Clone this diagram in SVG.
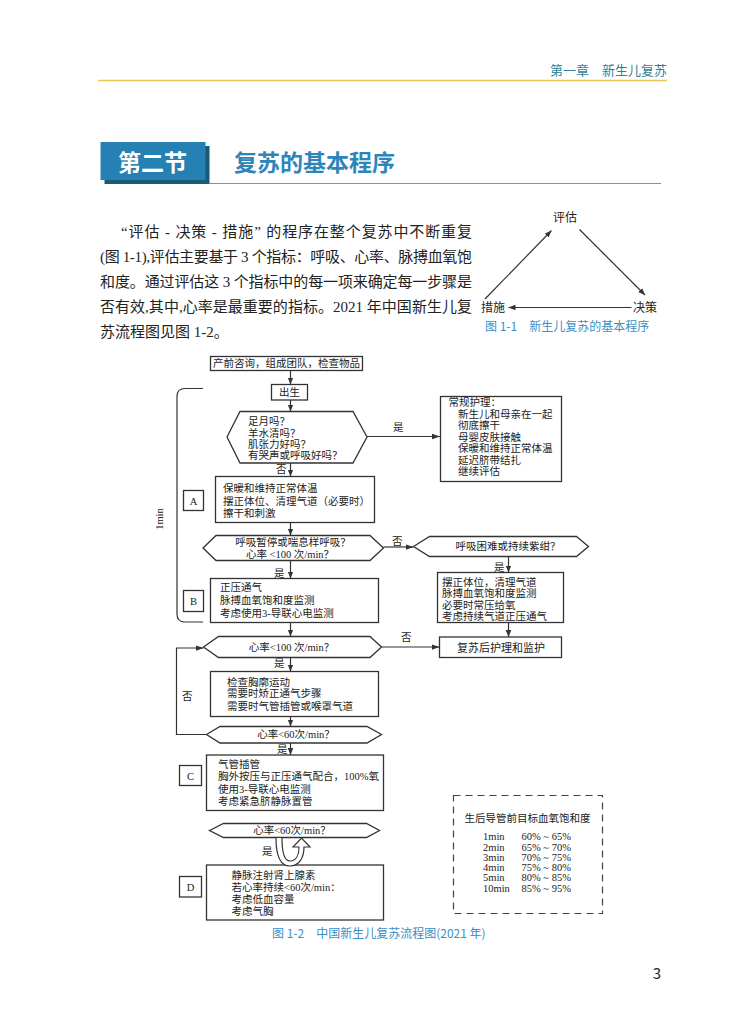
<svg xmlns="http://www.w3.org/2000/svg" width="750" height="1028" viewBox="0 0 750 1028">
<style>
.s{font-family:'Liberation Serif','Noto Sans CJK SC',serif;fill:#222}
.f{font-size:10.5px}
.h{font-family:'Noto Sans CJK SC','Liberation Sans',sans-serif}
.box{fill:#fff;stroke:#333;stroke-width:1.3}
.ln{fill:none;stroke:#333;stroke-width:1.2}
.blue{fill:#3a8fc4}
</style>
<defs>
<marker id="ah" viewBox="0 0 10 10" refX="10" refY="5" markerWidth="7" markerHeight="7" markerUnits="userSpaceOnUse" orient="auto"><path d="M0,1 L10,5 L0,9 Z" fill="#333"/></marker>
<marker id="ah2" viewBox="0 0 10 10" refX="10" refY="5" markerWidth="8" markerHeight="8" markerUnits="userSpaceOnUse" orient="auto"><path d="M0,1.5 L10,5 L0,8.5 Z" fill="#333"/></marker>
</defs>
<rect width="750" height="1028" fill="#fff"/>

<g id="header">
<text x="667" y="75" text-anchor="end" class="h" font-size="13" fill="#2f7f98">第一章　新生儿复苏</text>
<line x1="98" y1="80.5" x2="667" y2="80.5" stroke="#e6c457" stroke-width="1.5"/>
</g>

<g id="section-title">
<rect x="104.5" y="146" width="105" height="38" fill="#1b5a74"/>
<rect x="100.5" y="142" width="105" height="38" fill="#2580b3"/>
<text x="152.5" y="171" text-anchor="middle" class="h" font-size="23" font-weight="bold" fill="#fff">第二节</text>
<text x="234" y="171" class="h" font-size="23" font-weight="bold" fill="#2c86ba">复苏的基本程序</text>
<line x1="209" y1="183.5" x2="661" y2="183.5" stroke="#4aa3d4" stroke-width="1.2"/>
</g>

<g id="paragraph" class="s" font-size="15">
<text x="121" y="237" textLength="351" lengthAdjust="spacing">“评估 - 决策 - 措施” 的程序在整个复苏中不断重复</text>
<text x="100" y="262" textLength="372" lengthAdjust="spacing">(图 1-1),评估主要基于 3 个指标：呼吸、心率、脉搏血氧饱</text>
<text x="100" y="287" textLength="372" lengthAdjust="spacing">和度。通过评估这 3 个指标中的每一项来确定每一步骤是</text>
<text x="100" y="312" textLength="372" lengthAdjust="spacing">否有效,其中,心率是最重要的指标。2021 年中国新生儿复</text>
<text x="100" y="337">苏流程图见图 1-2。</text>
</g>

<g id="fig1-1">
<g class="s" font-size="12">
<text id="n-eval" x="565" y="222" text-anchor="middle">评估</text>
<text id="n-act" x="493" y="312" text-anchor="middle">措施</text>
<text id="n-dec" x="645" y="312" text-anchor="middle">决策</text>
</g>
<g id="fig1-1-connectors" stroke="#333" stroke-width="1.2" fill="none">
<line x1="485" y1="299" x2="551.5" y2="230.5" marker-end="url(#ah)"/>
<line x1="579.5" y1="229.5" x2="645" y2="295" marker-end="url(#ah)"/>
<line x1="631.5" y1="307.5" x2="508.5" y2="307.5" marker-end="url(#ah)"/>
</g>
<text x="485" y="331" class="h blue" font-size="12">图 1-1　新生儿复苏的基本程序</text>
</g>

<g id="prep"><rect class="box" x="210.5" y="356.5" width="152" height="14"/>
<text class="s f" x="286.5" y="367" text-anchor="middle">产前咨询，组成团队，检查物品</text></g>

<g id="birth"><rect class="box" x="271.5" y="384.5" width="36" height="15.5"/>
<text class="s f" x="289.5" y="396" text-anchor="middle">出生</text></g>

<g id="q1"><polygon class="box" points="227,437 240,411.5 353,411.5 367,437 353,463 240,463"/>
<g class="s f"><text x="248" y="425">足月吗？</text><text x="248" y="436.5">羊水清吗？</text><text x="248" y="448">肌张力好吗？</text><text x="248" y="459">有哭声或呼吸好吗？</text></g></g>

<g id="routine"><rect class="box" x="440.5" y="396.5" width="121" height="85"/>
<g class="s f"><text x="448.5" y="406">常规护理：</text><text x="458" y="417.5">新生儿和母亲在一起</text><text x="458" y="429">彻底擦干</text><text x="458" y="440.5">母婴皮肤接触</text><text x="458" y="452">保暖和维持正常体温</text><text x="458" y="463.5">延迟脐带结扎</text><text x="458" y="475">继续评估</text></g></g>

<g id="stepA"><rect class="box" x="215.5" y="476.5" width="159" height="46"/>
<g class="s f"><text x="223" y="492">保暖和维持正常体温</text><text x="223" y="505">摆正体位、清理气道（必要时）</text><text x="223" y="517">擦干和刺激</text></g></g>
<g id="labelA"><rect class="box" x="183.5" y="490.5" width="20" height="20"/><text class="s f" x="193.5" y="504.5" text-anchor="middle">A</text></g>

<g id="q2"><polygon class="box" points="203,548 216,535.5 370,535.5 383.5,548 370,560.5 216,560.5"/>
<g class="s f" text-anchor="middle"><text x="293" y="546">呼吸暂停或喘息样呼吸？</text><text x="290" y="557.5">心率 &lt;100 次/min？</text></g></g>

<g id="q3"><polygon class="box" points="413.5,546.5 429.5,536.5 576.5,536.5 588.5,546.5 576.5,556.5 429.5,556.5"/>
<text class="s f" x="508" y="550" text-anchor="middle">呼吸困难或持续紫绀？</text></g>

<g id="stepB"><rect class="box" x="210.5" y="578.5" width="168" height="44"/>
<g class="s f"><text x="220" y="591">正压通气</text><text x="220" y="604">脉搏血氧饱和度监测</text><text x="220" y="617">考虑使用3-导联心电监测</text></g></g>
<g id="labelB"><rect class="box" x="183.5" y="590.5" width="20" height="21"/><text class="s f" x="193.5" y="605" text-anchor="middle">B</text></g>

<g id="cpap"><rect class="box" x="437.5" y="572.5" width="126" height="50"/>
<g class="s f"><text x="442" y="585.5">摆正体位，清理气道</text><text x="442" y="597">脉搏血氧饱和度监测</text><text x="442" y="608.5">必要时常压给氧</text><text x="442" y="620">考虑持续气道正压通气</text></g></g>

<g id="q4"><polygon class="box" points="203.5,647 218.5,636.5 370,636.5 381.5,647 370,657.5 218.5,657.5"/>
<text class="s f" x="291.5" y="650.5" text-anchor="middle">心率&lt;100 次/min？</text></g>

<g id="post"><rect class="box" x="439.5" y="637" width="122" height="20.5"/>
<text class="s" font-size="11" x="501" y="651.5" text-anchor="middle">复苏后护理和监护</text></g>

<g id="check"><rect class="box" x="210.5" y="671.5" width="168" height="45"/>
<g class="s f"><text x="227" y="685.5">检查胸廓运动</text><text x="227" y="697">需要时矫正通气步骤</text><text x="227" y="709.5">需要时气管插管或喉罩气道</text></g></g>

<g id="q5"><polygon class="box" points="206.5,734.5 220,726.5 367,726.5 381.5,734.5 367,743 220,743"/>
<text class="s f" x="296" y="738" text-anchor="middle">心率&lt;60次/min？</text></g>

<g id="stepC"><rect class="box" x="206.5" y="755" width="177" height="55.5"/>
<g class="s f"><text x="218" y="767.5">气管插管</text><text x="218" y="780">胸外按压与正压通气配合，100%氧</text><text x="218" y="793">使用3-导联心电监测</text><text x="218" y="805">考虑紧急脐静脉置管</text></g></g>
<g id="labelC"><rect class="box" x="179.5" y="765.5" width="22" height="20"/><text class="s f" x="190.5" y="779.5" text-anchor="middle">C</text></g>

<g id="q6"><polygon class="box" points="209.5,830.5 223.5,823.5 366.5,823.5 379.5,830.5 366.5,837.5 223.5,837.5"/>
<text class="s f" x="292" y="834" text-anchor="middle">心率&lt;60次/min？</text></g>

<g id="stepD"><rect class="box" x="206.5" y="865" width="177" height="55"/>
<g class="s f"><text x="231.5" y="878.5">静脉注射肾上腺素</text><text x="231.5" y="890.5">若心率持续&lt;60次/min：</text><text x="231.5" y="903">考虑低血容量</text><text x="231.5" y="915">考虑气胸</text></g></g>
<g id="labelD"><rect class="box" x="179.5" y="876.5" width="22" height="20.5"/><text class="s f" x="190.5" y="891" text-anchor="middle">D</text></g>

<g id="spo2-table">
<rect x="453.5" y="795.5" width="149" height="118" fill="none" stroke="#444" stroke-width="1.2" stroke-dasharray="7,5"/>
<text class="s f" x="527.5" y="822" text-anchor="middle">生后导管前目标血氧饱和度</text>
<g class="s f"><text x="483" y="840">1min</text><text x="483" y="850.5">2min</text><text x="483" y="860.5">3min</text><text x="483" y="870.5">4min</text><text x="483" y="881">5min</text><text x="483" y="891.5">10min</text></g>
<g class="s f"><text x="521.5" y="840">60% ~ 65%</text><text x="521.5" y="850.5">65% ~ 70%</text><text x="521.5" y="860.5">70% ~ 75%</text><text x="521.5" y="870.5">75% ~ 80%</text><text x="521.5" y="881">80% ~ 85%</text><text x="521.5" y="891.5">85% ~ 95%</text></g>
</g>

<g id="connectors" class="ln">
<line x1="290.5" y1="370.5" x2="290.5" y2="384.5" marker-end="url(#ah)"/>
<line x1="290.5" y1="400" x2="290.5" y2="411.5" marker-end="url(#ah)"/>
<line x1="367" y1="436.5" x2="440" y2="436.5" marker-end="url(#ah2)"/>
<line x1="290.5" y1="463" x2="290.5" y2="476.5" marker-end="url(#ah)"/>
<line x1="290.5" y1="522.5" x2="290.5" y2="535.5" marker-end="url(#ah)"/>
<line x1="383.5" y1="547" x2="413.5" y2="547" marker-end="url(#ah2)"/>
<line x1="290.5" y1="560.5" x2="290.5" y2="578.5" marker-end="url(#ah)"/>
<line x1="508.5" y1="556.5" x2="508.5" y2="572.5" marker-end="url(#ah)"/>
<line x1="508.5" y1="622.5" x2="508.5" y2="637" marker-end="url(#ah)"/>
<line x1="290.5" y1="622.5" x2="290.5" y2="636.5" marker-end="url(#ah)"/>
<line x1="381.5" y1="647" x2="439.5" y2="647" marker-end="url(#ah2)"/>
<line x1="290.5" y1="657.5" x2="290.5" y2="671.5" marker-end="url(#ah)"/>
<line x1="290.5" y1="716.5" x2="290.5" y2="726.5" marker-end="url(#ah)"/>
<polyline points="206.5,734.5 176.5,734.5 176.5,648 203.5,648" marker-end="url(#ah2)"/>
<line x1="290.5" y1="743" x2="290.5" y2="755" marker-end="url(#ah)"/>
<path d="M203,388.5 L185,388.5 Q177,388.5 177,396.5 L177,614 Q177,622 185,622 L203,622"/>
<path d="M276,838 C276,856 281,866 290,866 C299,866 304,858 304,847 L310,847 L301.5,838 L293,847 L299,847 C299,855 296,861 290,861 C285,861 282,854 282,838" fill="#fff"/>
</g>
<g id="connector-labels" class="s f">
<text x="393" y="431">是</text>
<text x="276" y="473">否</text>
<text x="392" y="545">否</text>
<text x="274" y="577">是</text>
<text x="494" y="571">是</text>
<text x="401" y="641">否</text>
<text x="274" y="667">是</text>
<text x="182" y="700">否</text>
<text x="277" y="753">是</text>
<text x="262" y="855">是</text>
<text x="166" y="522" text-anchor="middle" transform="rotate(-90 163 522)">1min</text>
</g>

<text x="272" y="938" class="h blue" font-size="12">图 1-2　中国新生儿复苏流程图(2021 年)</text>
<text x="657" y="979" class="h" font-size="15" fill="#222" text-anchor="middle">3</text>
</svg>
